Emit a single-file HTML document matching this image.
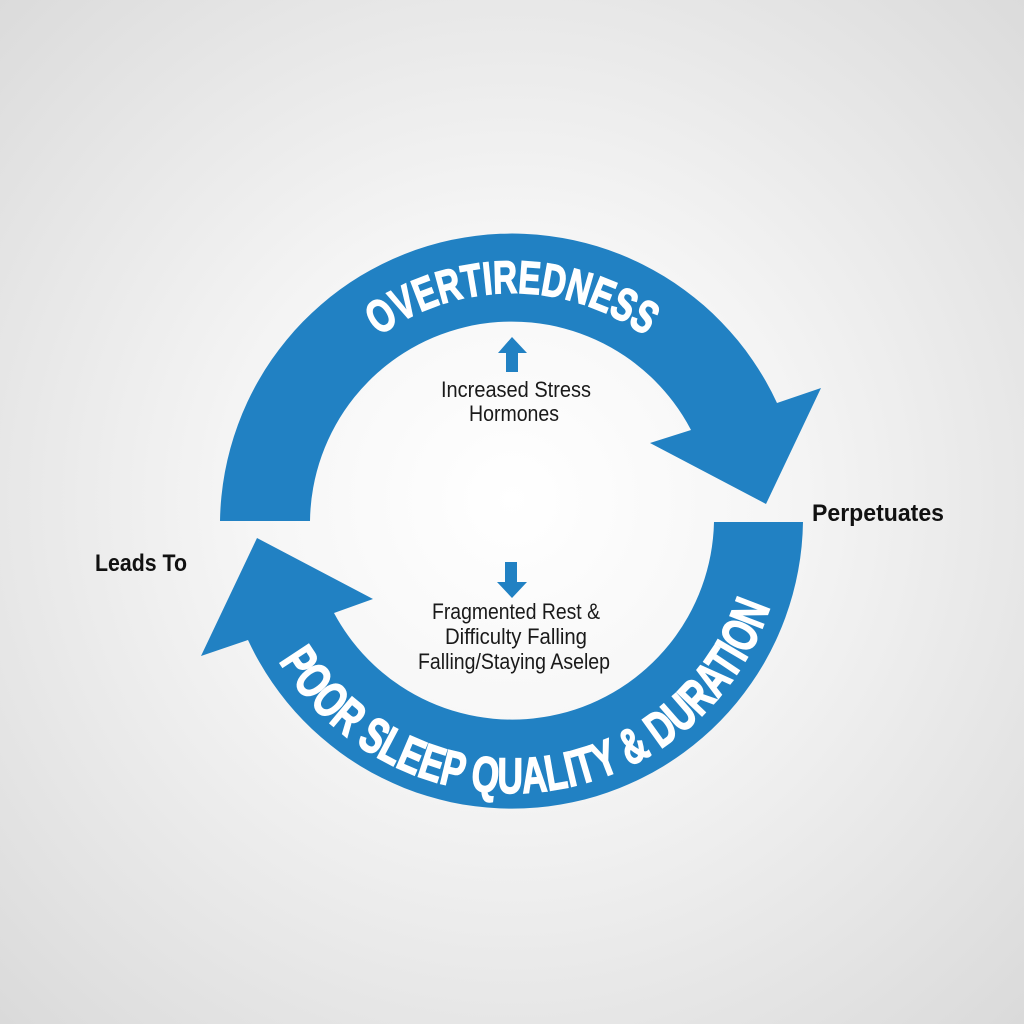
<!DOCTYPE html>
<html><head><meta charset="utf-8"><style>
html,body{margin:0;padding:0;}
body{width:1024px;height:1024px;background:radial-gradient(circle at 512px 500px,#ffffff 0%,#f6f6f6 35%,#e9e9e9 65%,#dadada 100%);overflow:hidden;}
svg{display:block}
.n{font-family:"Liberation Sans Narrow","Liberation Sans",sans-serif;}
.b{font-family:"Liberation Sans",sans-serif;font-weight:bold;}
</style></head><body>
<svg width="1024" height="1024" viewBox="0 0 1024 1024" xmlns="http://www.w3.org/2000/svg">
<defs>
<path id="top" d="M284,521 A228,228 0 0 1 740,521"/>
<path id="bot" d="M240,521 A272,272 0 0 0 784,521"/>
</defs>
<path fill="#2181c3" d="M220,521 A292,292 0 0 1 777,403 L821,388 L766,504 L650,443 L691,430 A202,202 0 0 0 310,521 Z"/>
<path fill="#2181c3" d="M803,522 A291,291 0 0 1 248,640 L201,656 L257,538 L373,599 L334,613 A202,202 0 0 0 714,522 Z"/>
<text class="b" font-size="46" font-weight="bold" fill="#fff" stroke="#fff" stroke-width="1.5"><textPath href="#top" startOffset="50%" text-anchor="middle" textLength="285" lengthAdjust="spacingAndGlyphs">OVERTIREDNESS</textPath></text>
<text class="b" font-size="50" font-weight="bold" fill="#fff" stroke="#fff" stroke-width="1.5"><textPath href="#bot" startOffset="147" textLength="620" lengthAdjust="spacingAndGlyphs">POOR SLEEP QUALITY &amp; DURATION</textPath></text>
<path fill="#2181c3" d="M498,353 L512,337 L527,353 L518,353 L518,372 L506,372 L506,353 Z"/>
<path fill="#2181c3" d="M505,562 L517,562 L517,582 L527,582 L512,598 L497,582 L505,582 Z"/>
<g class="n" font-size="22" fill="#1a1a1a" text-anchor="middle">
<text x="516" y="397" textLength="150" lengthAdjust="spacingAndGlyphs">Increased Stress</text>
<text x="514" y="421" textLength="90" lengthAdjust="spacingAndGlyphs">Hormones</text>
<text x="516" y="619" textLength="168" lengthAdjust="spacingAndGlyphs">Fragmented Rest &amp;</text>
<text x="516" y="644" textLength="142" lengthAdjust="spacingAndGlyphs">Difficulty Falling</text>
<text x="514" y="669" textLength="192" lengthAdjust="spacingAndGlyphs">Falling/Staying Aselep</text>
</g>
<text class="b" x="95" y="571" font-size="24" fill="#111" textLength="92" lengthAdjust="spacingAndGlyphs">Leads To</text>
<text class="b" x="812" y="521" font-size="24" fill="#111" textLength="132" lengthAdjust="spacingAndGlyphs">Perpetuates</text>
</svg>
</body></html>
